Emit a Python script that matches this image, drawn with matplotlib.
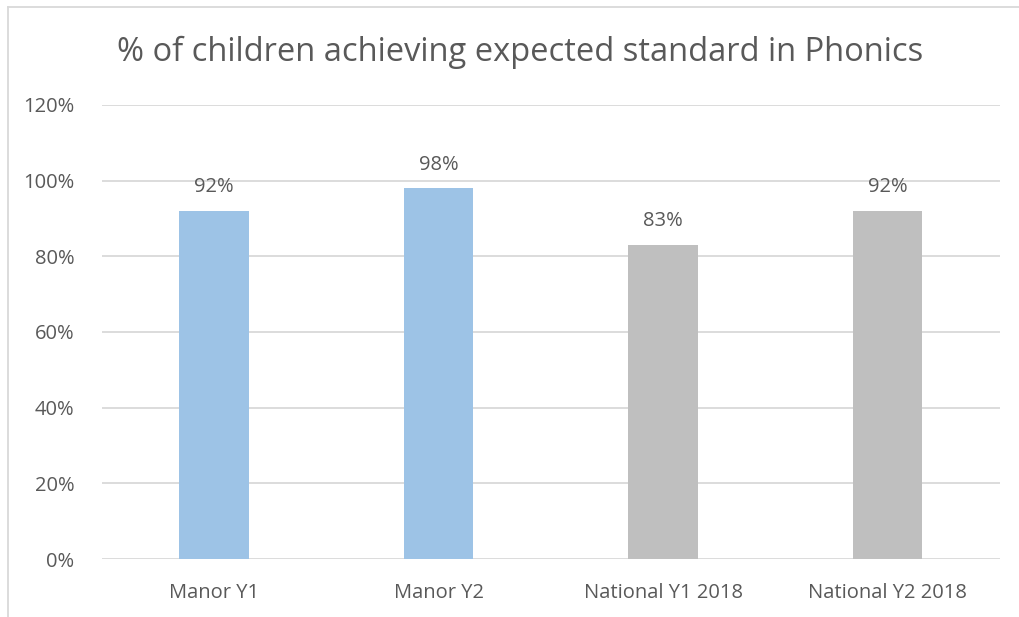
import matplotlib
matplotlib.use('Agg')
import matplotlib.pyplot as plt
from matplotlib.ticker import PercentFormatter
from matplotlib.lines import Line2D

# Datos
categorias = ['Manor Y1', 'Manor Y2', 'National Y1 2018', 'National Y2 2018']
valores = [92, 98, 83, 92]
colores = ['#9DC3E6', '#9DC3E6', '#BFBFBF', '#BFBFBF']
titulo = '% of children achieving expected standard in Phonics'

plt.rcParams['font.family'] = ['Open Sans', 'DejaVu Sans']
texto = '#595959'

fig = plt.figure(figsize=(10.2, 6.17), dpi=100)
ax = fig.add_axes([0.1, 0.094, 0.88, 0.736])

x = range(len(categorias))
ax.bar(x, valores, width=0.31, color=colores, zorder=2)
for xi, v in zip(x, valores):
    ax.text(xi, v + 3.6, '%d%%' % v, ha='center', va='bottom',
            fontsize=14.5, color=texto, zorder=3)

ax.set_xlim(-0.5, len(categorias) - 0.5)
ax.set_ylim(0, 120)
ax.set_yticks(range(0, 121, 20))
ax.yaxis.set_major_formatter(PercentFormatter(decimals=0))
ax.set_xticks(list(x))
ax.set_xticklabels(categorias)
ax.tick_params(axis='both', length=0, labelsize=14.5, labelcolor=texto)
ax.tick_params(axis='y', pad=20)
ax.tick_params(axis='x', pad=17)
ax.grid(axis='y', color='#D9D9D9', linewidth=1.3, zorder=0)
for s in ax.spines.values():
    s.set_visible(False)

fig.text(0.51, 0.915, titulo, ha='center', va='center',
         fontsize=23.5, color=texto)

# Borde del área del gráfico
fig.add_artist(Line2D([8/1020, 8/1020], [0, 1 - 7/617], transform=fig.transFigure,
                      color='#D9D9D9', linewidth=1.3))
fig.add_artist(Line2D([8/1020, 1], [1 - 7/617, 1 - 7/617], transform=fig.transFigure,
                      color='#D9D9D9', linewidth=1.3))

fig.savefig('out.png', dpi=100)
